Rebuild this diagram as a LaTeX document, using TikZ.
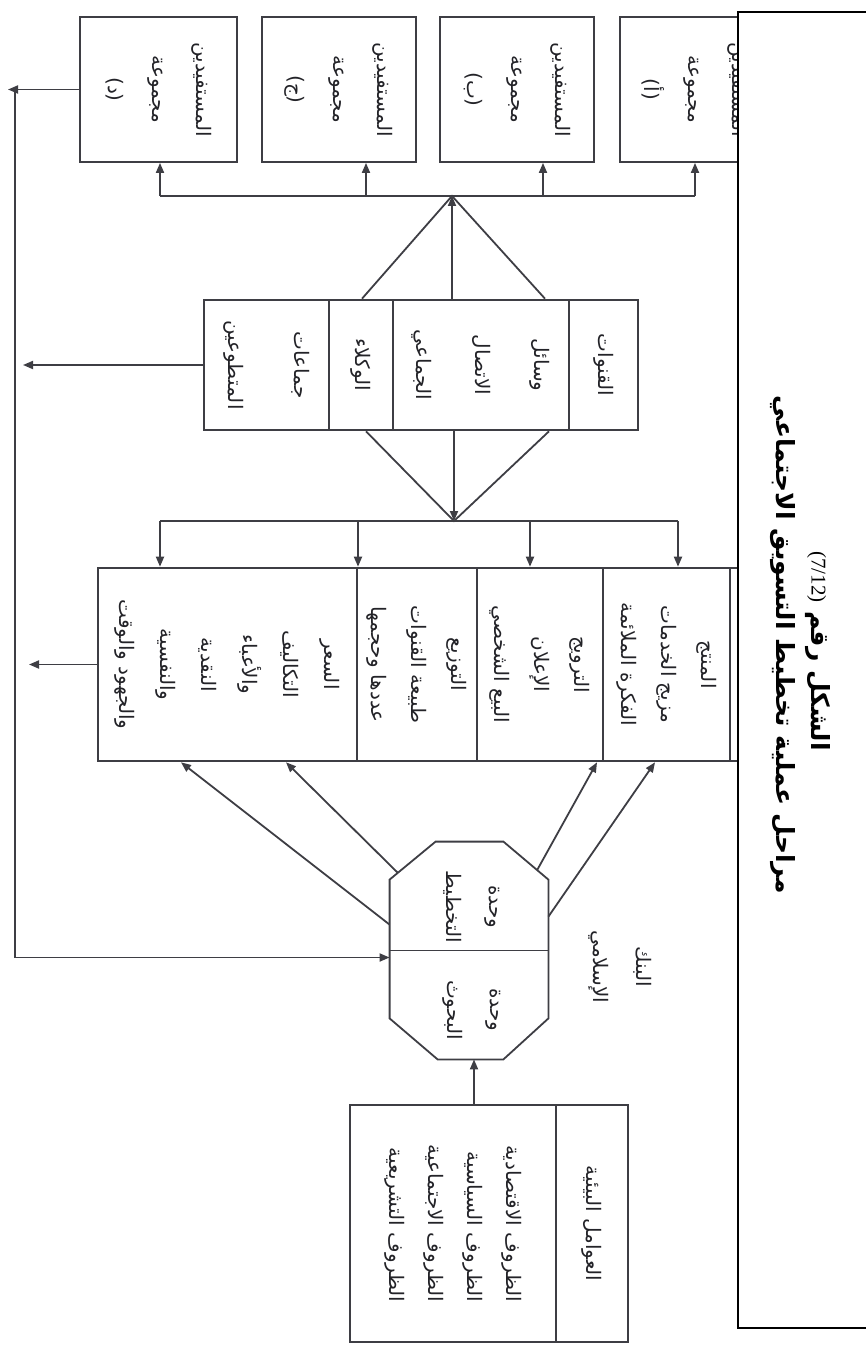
\documentclass[tikz,border=0pt]{standalone}
\usepackage{fontspec}
\setmainfont{Liberation Serif}
\newfontfamily\arabicfont[Script=Arabic]{DejaVu Sans}
\TeXXeTstate=1
\usetikzlibrary{arrows.meta,fit,calc}
\definecolor{scangray}{RGB}{62,62,68}
\definecolor{inkgray}{RGB}{35,35,40}
\newcommand{\ar}[1]{\beginR #1\endR}

\begin{document}
\begin{tikzpicture}[
  x=0.5pt, y=-0.5pt,
  cell/.style={draw=scangray, line width=0.9pt, rotate=-90, align=center, inner sep=1pt,
    text=inkgray, font=\arabicfont\fontsize{10}{20}\selectfont},
  txt/.style={rotate=-90, align=center, inner sep=1pt, text=inkgray,
    font=\arabicfont\fontsize{10}{21.5}\selectfont},
  wire/.style={draw=scangray, line width=0.9pt},
  arr/.style={wire, -{Triangle[length=5pt, width=4pt]}},
  headline/.style={txt, text=black, font=\arabicfont\bfseries\fontsize{12.5}{15}\selectfont}
]
\useasboundingbox (0,0) rectangle (866,1348);

% beneficiary groups
\node[cell, minimum width=72.5pt, minimum height=78.5pt, font=\arabicfont\fontsize{10}{22}\selectfont] (benD) at (158.5,89.5) {\ar{المستفيدين}\\\ar{مجموعة}\\\ar{(د)}};
\node[cell, minimum width=72.5pt, minimum height=77pt, font=\arabicfont\fontsize{10}{22}\selectfont] (benC) at (339,89.5) {\ar{المستفيدين}\\\ar{مجموعة}\\\ar{(ج)}};
\node[cell, minimum width=72.5pt, minimum height=77pt, font=\arabicfont\fontsize{10}{22}\selectfont] (benB) at (517,89.5) {\ar{المستفيدين}\\\ar{مجموعة}\\\ar{(ب)}};
\node[cell, minimum width=72.5pt, minimum height=75pt, font=\arabicfont\fontsize{10}{22}\selectfont] (benA) at (695,89.5) {\ar{المستفيدين}\\\ar{مجموعة}\\\ar{(أ)}};

% channels
\node[cell, minimum width=65pt, minimum height=34.5pt] (chQ) at (603.5,365) {\ar{القنوات}};
\node[cell, minimum width=65pt, minimum height=88pt, font=\arabicfont\fontsize{10}{29.5}\selectfont] (chM) at (481,365) {\ar{وسائل}\\\ar{الاتصال}\\\ar{الجماعي}};
\node[cell, minimum width=65pt, minimum height=32pt] (chW) at (361,365) {\ar{الوكلاء}};
\node[cell, minimum width=65pt, minimum height=62.5pt, font=\arabicfont\fontsize{10}{33}\selectfont] (chV) at (266.5,365) {\ar{جماعات}\\\ar{المتطوعين}};
\node[fit=(chQ)(chV), inner sep=0pt] (chan) {};

% marketing mix
\node[cell, minimum width=96.5pt, minimum height=15pt] (mxhead) at (745,664.5) {};
\node[cell, minimum width=96.5pt, minimum height=63.5pt] (mxP) at (666.5,664.5) {\ar{المنتج}\\\ar{مزيج الخدمات}\\\ar{الفكرة الملائمة}};
\node[cell, minimum width=96.5pt, minimum height=63pt] (mxR) at (540,664.5) {\ar{الترويج}\\\ar{الإعلان}\\\ar{البيع الشخصي}};
\node[cell, minimum width=96.5pt, minimum height=60pt] (mxD) at (417,664.5) {\ar{التوزيع}\\\ar{طبيعة القنوات}\\\ar{عددها وحجمها}};
\node[cell, minimum width=96.5pt, minimum height=129.5pt, font=\arabicfont\fontsize{10}{20.5}\selectfont] (mxS) at (227.5,664.5) {\ar{السعر}\\\ar{التكاليف}\\\ar{والأعباء}\\\ar{النقدية}\\\ar{والنفسية}\\\ar{والجهود والوقت}};
\node[fit=(mxhead)(mxS), inner sep=0pt] (mix) {};

% islamic bank (octagon drawn round the node)
\node[minimum width=79pt, minimum height=108.5pt, inner sep=0pt] (bank) at (469,950.5) {};
\draw[wire] ($(bank.north west)+(46,0)$) -- ($(bank.north east)+(-45,0)$) -- ($(bank.north east)+(0,38)$)
  -- ($(bank.south east)+(0,-41)$) -- ($(bank.south east)+(-45,0)$) -- ($(bank.south west)+(48,0)$)
  -- ($(bank.south west)+(0,-41)$) -- ($(bank.north west)+(0,38)$) -- cycle;
\draw[wire] (bank.west) -- (bank.east);
\node[txt] (plan) at (471.5,907) {\ar{وحدة}\\\ar{التخطيط}};
\node[txt] (research) at (471.5,1010) {\ar{وحدة}\\\ar{البحوث}};
\node[txt] (bankname) at (620,967) {\ar{البنك}\\\ar{الإسلامي}};

% environment
\node[cell, minimum width=118.5pt, minimum height=36pt] (envH) at (592,1223.5) {\ar{العوامل البيئية}};
\node[cell, minimum width=118.5pt, minimum height=103pt, align=right, font=\arabicfont\fontsize{10}{19.5}\selectfont] (envB) at (453,1223.5) {\ar{الظروف الاقتصادية}\\\ar{الظروف السياسية}\\\ar{الظروف الاجتماعية}\\\ar{الظروف التشريعية}};
\node[fit=(envH)(envB), inner sep=0pt] (env) {};

% connectors
\coordinate (topbus) at (452,196);
\coordinate (midbus) at (454,521);
\foreach \b/\x in {benD/160,benC/366,benB/543,benA/695}
  \draw[arr] (\x,0 |- topbus) -- (\x,0 |- \b.east);
\draw[wire] (160,0 |- topbus) -- (695,0 |- topbus);
\draw[wire] (362,0 |- chan.north) -- (topbus) -- (545,0 |- chan.north);
\draw[arr] (452,0 |- chan.north) -- (topbus);
\draw[wire] (366,0 |- chan.south) -- (midbus) -- (549,0 |- chan.south);
\draw[arr] (454,0 |- chan.south) -- (midbus);
\draw[wire] (160,0 |- midbus) -- (678,0 |- midbus);
\foreach \x in {160,358,530,678}
  \draw[arr] (\x,0 |- midbus) -- (\x,0 |- mix.north);
\draw[arr] ($(bank.north west)+(8,31)$) -- (286,0 |- mix.south);
\draw[arr] ($(bank.north west)+(0,83)$) -- (181,0 |- mix.south);
\draw[arr] ($(bank.north east)+(-11,28)$) -- (597,0 |- mix.south);
\draw[arr] ($(bank.north east)+(0,75)$) -- (655,0 |- mix.south);
\draw[arr] (474,0 |- env.north) -- (474,0 |- bank.south);

% feedback
\draw[arr] (benD.south) -- (8,0 |- benD.south);
\draw[arr] (chV.south) -- (23,0 |- chV.south);
\draw[arr] (mxS.south) -- (29,0 |- mxS.south);
\draw[arr] (15,0 |- benD.south) |- ([yshift=-3.5pt]bank.west);

% title frame
\draw[black, line width=1.1pt, fill=white] (738,12) rectangle (880,1328);
\node[headline] (title) at (783,645) {\ar{مراحل عملية تخطيط التسويق الاجتماعي}};
\node[headline] (caption) at (818,651) {{\rmfamily\mdseries\fontsize{10.5}{12}\selectfont (7/12)} \ar{الشكل رقم}};
\end{tikzpicture}
\end{document}
